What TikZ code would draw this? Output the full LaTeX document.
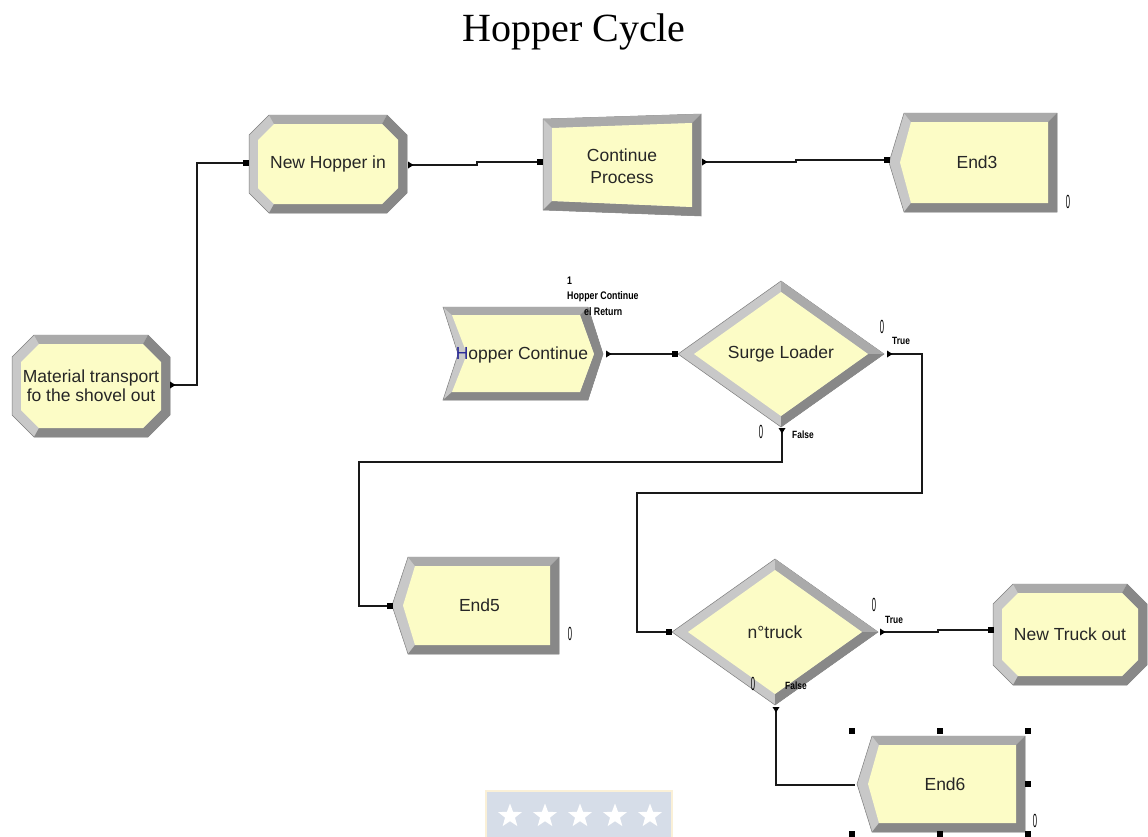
\documentclass[tikz,border=0pt]{standalone}
\usepackage{fontspec}
\setmainfont{Liberation Serif}
\setsansfont{Liberation Sans}
\newfontfamily\narrowsans[FakeStretch=0.4]{Liberation Sans}
\newfontfamily\tagsans[FakeStretch=0.8]{Liberation Sans}
\usetikzlibrary{shapes.geometric}

\definecolor{modfill}{RGB}{252,252,198}
\definecolor{bevlight}{RGB}{200,200,200}
\definecolor{bevmid}{RGB}{170,170,170}
\definecolor{bevdark}{RGB}{136,136,136}
\definecolor{bevedge}{RGB}{125,125,125}
\definecolor{hblue}{RGB}{40,40,150}
\definecolor{wmfill}{RGB}{214,221,232}
\definecolor{wmedge}{RGB}{250,240,215}

\tikzset{
  lighttone/.style={fill=bevlight, draw=bevedge, line width=0.5pt},
  midtone/.style={fill=bevmid},
  darktone/.style={fill=bevdark},
  face/.style={fill=modfill},
  modtext/.style={font=\sffamily\fontsize{17.5}{19}\selectfont, align=center, inner sep=0pt, text=black!85},
  tagtext/.style={font=\tagsans\bfseries\fontsize{10.5}{11}\selectfont, inner sep=0pt, anchor=west},
  notetext/.style={font=\tagsans\bfseries\fontsize{11}{12}\selectfont, inner sep=0pt, anchor=west},
  countertext/.style={font=\narrowsans\fontsize{19}{19}\selectfont, inner sep=0pt},
  link/.style={draw=black!90, line width=1.1pt},
  outtip/.pic={\fill[black] (-2,-3.5) -- (3.5,0) -- (-2,3.5) -- cycle;},
  intab/.pic={\fill[black] (-3,-3) rectangle (3,3);},
  selbox/.pic={\fill[black] (-3,-3) rectangle (3,3);}
}

% bevelled octagon module: name, left, top, right, bottom, corner cut, label
\newcommand\octmodule[7]{%
  \pgfmathsetmacro\oA{#2+#6}\pgfmathsetmacro\oB{#4-#6}%
  \pgfmathsetmacro\oC{#3+#6}\pgfmathsetmacro\oD{#5-#6}%
  \pgfmathsetmacro\iL{#2+9}\pgfmathsetmacro\iR{#4-9}%
  \pgfmathsetmacro\iT{#3+9}\pgfmathsetmacro\iBt{#5-9}%
  \pgfmathsetmacro\iA{#2+9+#6-4}\pgfmathsetmacro\iBx{#4-9-#6+4}%
  \pgfmathsetmacro\iC{#3+9+#6-4}\pgfmathsetmacro\iD{#5-9-#6+4}%
  \filldraw[lighttone] (\oA,#3) -- (\oB,#3) -- (#4,\oC) -- (#4,\oD) -- (\oB,#5) -- (\oA,#5) -- (#2,\oD) -- (#2,\oC) -- cycle;
  \fill[midtone] (\oA,#3) -- (\oB,#3) -- (\iBx,\iT) -- (\iA,\iT) -- cycle;
  \fill[darktone] (\oB,#3) -- (#4,\oC) -- (#4,\oD) -- (\oB,#5) -- (\oA,#5) -- (\iA,\iBt) -- (\iBx,\iBt) -- (\iR,\iD) -- (\iR,\iC) -- (\iBx,\iT) -- cycle;
  \fill[face] (\iA,\iT) -- (\iBx,\iT) -- (\iR,\iC) -- (\iR,\iD) -- (\iBx,\iBt) -- (\iA,\iBt) -- (\iL,\iD) -- (\iL,\iC) -- cycle;
  \node[modtext] (#1) at ({(#2+#4)/2},{(#3+#5)/2}) {#7};
}

% bevelled dispose module (point on the left): name, tip x, top, right, bottom, tip depth, label
\newcommand\disposemodule[7]{%
  \pgfmathsetmacro\dM{(#3+#5)/2}%
  \pgfmathsetmacro\dL{#2+#6}\pgfmathsetmacro\dLi{#2+#6+7}%
  \pgfmathsetmacro\dTi{#3+9}\pgfmathsetmacro\dRi{#4-9}\pgfmathsetmacro\dBi{#5-9}%
  \pgfmathsetmacro\dTipi{#2+11}%
  \filldraw[lighttone] (\dL,#3) -- (#4,#3) -- (#4,#5) -- (\dL,#5) -- (#2,\dM) -- cycle;
  \fill[midtone] (\dL,#3) -- (#4,#3) -- (\dRi,\dTi) -- (\dLi,\dTi) -- cycle;
  \fill[darktone] (#4,#3) -- (#4,#5) -- (\dL,#5) -- (\dLi,\dBi) -- (\dRi,\dBi) -- (\dRi,\dTi) -- cycle;
  \fill[face] (\dLi,\dTi) -- (\dRi,\dTi) -- (\dRi,\dBi) -- (\dLi,\dBi) -- (\dTipi,\dM) -- cycle;
  \node[modtext] (#1) at ({(#2+#4)/2+4},\dM) {#7};
}

% bevelled decide module: name, centre x, centre y, half width, half height, label
\newcommand\decidemodule[6]{%
  \pgfmathsetmacro\qT{#3-#5}\pgfmathsetmacro\qB{#3+#5}%
  \pgfmathsetmacro\qL{#2-#4}\pgfmathsetmacro\qR{#2+#4}%
  \pgfmathsetmacro\qTi{#3-#5+11}\pgfmathsetmacro\qBi{#3+#5-11}%
  \pgfmathsetmacro\qLi{#2-#4+16}\pgfmathsetmacro\qRi{#2+#4-16}%
  \filldraw[lighttone] (#2,\qT) -- (\qR,#3) -- (#2,\qB) -- (\qL,#3) -- cycle;
  \fill[midtone] (#2,\qT) -- (\qR,#3) -- (\qRi,#3) -- (#2,\qTi) -- cycle;
  \fill[darktone] (\qR,#3) -- (#2,\qB) -- (#2,\qBi) -- (\qRi,#3) -- cycle;
  \fill[face] (#2,\qTi) -- (\qRi,#3) -- (#2,\qBi) -- (\qLi,#3) -- cycle;
  \node[modtext] (#1) at (#2,#3) {#6};
}

\begin{document}
\begin{tikzpicture}[x=1pt,y=-1pt]
\useasboundingbox (0,0) rectangle (1148,836);
\fill[white] (0,0) rectangle (1148,836);

% title
\node[font=\fontsize{40}{44}\selectfont, anchor=base, inner sep=0pt] (title) at (574,41) {Hopper Cycle};

% ---------- modules ----------
\octmodule{mat}{12}{335}{170}{437}{22}{Material transport\\fo the shovel out}
\octmodule{nhin}{249}{115}{407}{213}{20}{New Hopper in}
\octmodule{ntout}{993}{584}{1147}{685}{20}{New Truck out}

% Continue Process (slightly skewed process box)
\filldraw[lighttone] (543,119) -- (701,114) -- (701,216) -- (543,210) -- cycle;
\fill[midtone] (543,119) -- (701,114) -- (692,123) -- (552,128) -- cycle;
\fill[darktone] (701,114) -- (701,216) -- (543,210) -- (552,201) -- (692,207) -- (692,123) -- cycle;
\fill[face] (552,128) -- (692,123) -- (692,207) -- (552,201) -- cycle;
\node[modtext] (cproc) at (622,166) {Continue\\[3pt]Process};

\disposemodule{endthree}{889}{113}{1057}{212}{15}{End3}
\disposemodule{endfive}{392}{557}{559}{654}{16}{End5}
\disposemodule{endsix}{857}{736}{1025}{832}{15}{End6}

% Hopper Continue (station shape)
\filldraw[lighttone] (443,307) -- (588,307) -- (603,354) -- (588,400) -- (443,400) -- (458,354) -- cycle;
\fill[midtone] (443,307) -- (588,307) -- (580,315) -- (452,315) -- cycle;
\fill[darktone] (588,307) -- (603,354) -- (588,400) -- (443,400) -- (452,392) -- (580,392) -- (594,354) -- (580,315) -- cycle;
\fill[face] (452,315) -- (580,315) -- (594,354) -- (580,392) -- (452,392) -- (467,354) -- cycle;
\node[modtext] (hcont) at (522,355) {{\color{hblue}H}opper Continue};
\node[notetext] (hnum) at (567,281) {1};
\node[notetext] (hname) at (567,297) {Hopper Continue};
\node[notetext] (hret) at (584,312) {el Return};

\decidemodule{surge}{781}{354}{103}{73}{Surge Loader}
\decidemodule{ntruck}{775}{632}{103}{73}{n°truck}

% ---------- ports ----------
\coordinate (mat-out) at (172,385);
\coordinate (nhin-in) at (246,163);
\coordinate (nhin-out) at (410,165);
\coordinate (cproc-in) at (540,162);
\coordinate (cproc-out) at (704,162);
\coordinate (endthree-in) at (887,160);
\coordinate (hcont-out) at (608,354);
\coordinate (surge-in) at (675,354);
\coordinate (surge-true) at (889,354);
\coordinate (surge-false) at (782,430);
\coordinate (endfive-in) at (390,606);
\coordinate (ntruck-in) at (669,632);
\coordinate (ntruck-true) at (882,632);
\coordinate (ntruck-false) at (776,709);
\coordinate (ntout-in) at (991,630);
\coordinate (endsix-in) at (855,785);

% ---------- connectors ----------
\draw[link] (mat-out) -- ++(25,0) |- (nhin-in);
\draw[link] (nhin-out) -- ++(67,0) |- (cproc-in);
\draw[link] (cproc-out) -- ++(92,0) |- (endthree-in);
\draw[link] (hcont-out) -- (surge-in);
\draw[link] (surge-true) -- ++(33,0) |- ++(-285,139) |- (ntruck-in);
\draw[link] (surge-false) |- ++(-423,32) |- (endfive-in);
\draw[link] (ntruck-true) -- ++(56,0) |- (ntout-in);
\draw[link] (ntruck-false) |- (endsix-in);

% port markers
\pic at (mat-out) {outtip};
\pic at (nhin-out) {outtip};
\pic at (cproc-out) {outtip};
\pic at (hcont-out) {outtip};
\pic at (surge-true) {outtip};
\pic[rotate=-90] at (surge-false) {outtip};
\pic at (ntruck-true) {outtip};
\pic[rotate=-90] at (ntruck-false) {outtip};
\pic at (nhin-in) {intab};
\pic at (cproc-in) {intab};
\pic at (endthree-in) {intab};
\pic at (surge-in) {intab};
\pic at (endfive-in) {intab};
\pic at (ntruck-in) {intab};
\pic at (ntout-in) {intab};

% branch tags
\node[tagtext] (stt) at (892,341) {True};
\node[tagtext] (stf) at (792,435) {False};
\node[tagtext] (ntt) at (885,620) {True};
\node[tagtext] (ntf) at (785,686) {False};

% counters
\node[countertext] (c1) at (1068,202) {0};
\node[countertext] (c2) at (882,327) {0};
\node[countertext] (c3) at (761,432) {0};
\node[countertext] (c4) at (570,634) {0};
\node[countertext] (c5) at (874,605) {0};
\node[countertext] (c6) at (753,684) {0};
\node[countertext] (c7) at (1035,821) {0};

% selection handles around End6
\foreach \hx/\hy in {852/731, 940/731, 1028/731, 1028/784, 852/834, 940/834, 1028/834}
  \pic at (\hx,\hy) {selbox};

% stamp with stars
\filldraw[fill=wmfill, draw=wmedge, line width=1.2pt] (486,791) rectangle (672,840);
\foreach \sx in {510,545,580,615,650}
  \node[star, star points=5, star point ratio=2.4, fill=white, inner sep=0pt, minimum size=25pt] at (\sx,816) {};
\end{tikzpicture}
\end{document}
